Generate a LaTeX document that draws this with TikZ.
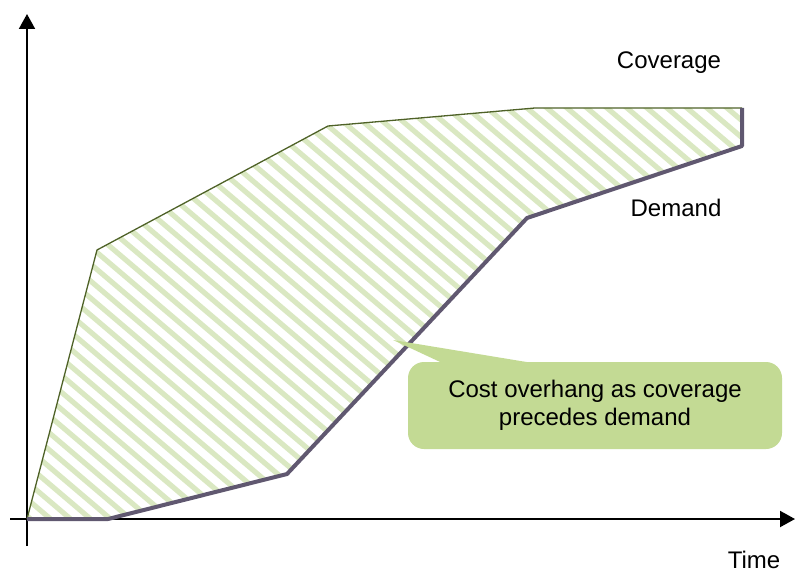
\documentclass[tikz,border=0pt]{standalone}
\usepackage{fontspec}
\setmainfont{Liberation Sans}
\usepackage{tikz}
\usetikzlibrary{arrows.meta, positioning}
\usepackage{xcolor}

\definecolor{covline}{RGB}{79,98,40}
\definecolor{demline}{RGB}{96,88,112}
\definecolor{hatchgreen}{RGB}{218,232,194}
\definecolor{calloutgreen}{RGB}{195,218,148}

\begin{document}
\begin{tikzpicture}[
  x=0.5pt, y=-0.5pt,
  axis/.style={-{Triangle[length=7.5pt, width=8pt]}, line width=1pt, black},
  coverage/.style={line width=0.65pt, covline, line join=round},
  demand/.style={line width=2pt, demline, line join=round},
  hatch/.style={line width=2.6pt, hatchgreen},
  callout/.style={rectangle, rounded corners=8pt, fill=calloutgreen, minimum width=187pt, minimum height=43.5pt, align=center, font=\fontsize{12}{14}\selectfont},
  label/.style={font=\fontsize{12}{14}\selectfont}
]
  \useasboundingbox (0,0) rectangle (795,572);

  % Axes
  \coordinate (origin) at (27,519);
  \coordinate (ybot) at (27,546);
  \coordinate (ytop) at (27,14);
  \coordinate (xleft) at (10,519);
  \coordinate (xright) at (795,519);

  % Coverage curve
  \coordinate (c1) at (97,250);
  \coordinate (c2) at (328,126);
  \coordinate (c3) at (535,108);
  \coordinate (c4) at (742,108);

  % Demand curve
  \coordinate (d1) at (108,519);
  \coordinate (d2) at (287,474);
  \coordinate (d3) at (527,218);
  \coordinate (d4) at (742,146);

  % Hatched overhang
  \begin{scope}
    \clip (origin) -- (c1) -- (c2) -- (c3) -- (c4) -- (d4) -- (d3) -- (d2) -- (d1) -- cycle;
    \foreach \i in {-32,...,38}
      \draw[hatch] (\i*20,0) -- ++(700,595);
  \end{scope}

  \draw[axis] (ybot) -- (ytop);
  \draw[axis] (xleft) -- (xright);

  \draw[coverage] (origin) -- (c1) -- (c2) -- (c3) -- (c4);
  \draw[demand] (origin) -- (d1) -- (d2) -- (d3) -- (d4) -- (c4);

  % Labels
  \node[label] (covlabel) at (669,63) {Coverage};
  \node[label] (demlabel) at (676,208) {Demand};
  \node[label] (timelabel) at (754,560) {Time};

  % Callout
  \coordinate (tip) at (393,340);
  \node[callout] (note) at (595,405.5) {Cost overhang as coverage\\precedes demand};
  \fill[calloutgreen] (tip) -- (453,368) -- (563,368) -- cycle;
\end{tikzpicture}
\end{document}
